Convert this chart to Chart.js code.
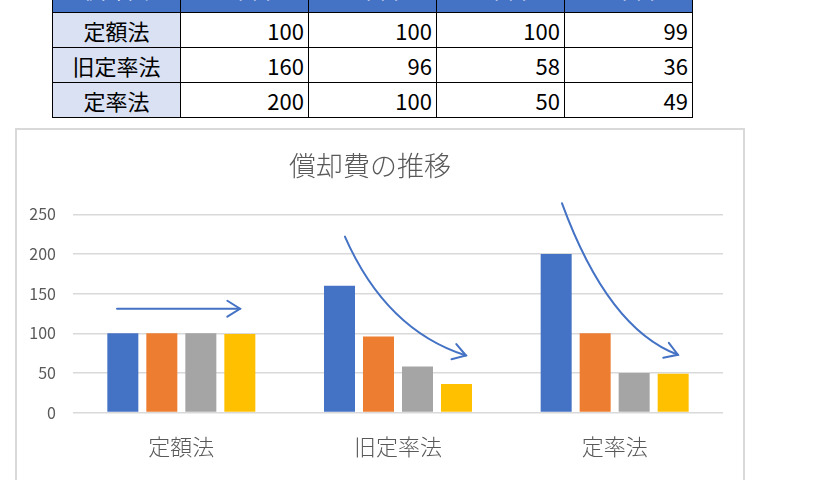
<!DOCTYPE html>
<html lang="ja">
<head>
<meta charset="utf-8">
<title>償却費の推移</title>
<script src="https://cdn.jsdelivr.net/npm/chart.js@4.4.1/dist/chart.umd.min.js"></script>
<style>
  html, body { margin: 0; padding: 0; background: #fff; overflow: hidden; }
  body { width: 821px; height: 480px; position: relative; font-family: "Noto Sans CJK JP", "Noto Sans", sans-serif; }
  #table { position: absolute; left: 52px; top: -29px; border-collapse: collapse; font-size: 22px; }
  #table td, #table th { border: 1px solid #000; width: 128px; height: 35px; padding: 0 4px; box-sizing: border-box; line-height: 1; }
  #table th { background: #4472c4; color: #fff; font-weight: normal; text-align: center; height: 41px; vertical-align: top; padding-top: 5px; }
  #table td { text-align: right; color: #000; }
  #table td.name { background: #d9e1f2; text-align: center; }
  #box { position: absolute; left: 15px; top: 128px; width: 726px; height: 360px; border: 2px solid #d9d9d9; background: #fff; }
  #box canvas { display: block; }
</style>
</head>
<body>
<table id="table"></table>
<div id="box"><canvas id="chart" width="726" height="360"></canvas></div>
<script>
// Depreciation per year for each method
const categories = ["定額法", "旧定率法", "定率法"]
const seriesLabels = ["1年目", "2年目", "3年目", "4年目"]
const year1 = [100, 160, 200]
const year2 = [100, 96, 100]
const year3 = [100, 58, 50]
const year4 = [99, 36, 49]
const headerLabel = "償却費"
const yMax = 250
const yStep = 50

const series = [year1, year2, year3, year4]
const colors = ["#4472c4", "#ed7d31", "#a5a5a5", "#ffc000"]

// sheet table
const table = document.getElementById("table")
let html = "<tr><th>" + headerLabel + "</th>" + seriesLabels.map((s) => "<th>" + s + "</th>").join("") + "</tr>"
categories.forEach((c, i) => {
  html += "<tr><td class=\"name\">" + c + "</td>" + series.map((s) => "<td>" + s[i] + "</td>").join("") + "</tr>"
})
table.innerHTML = html

// hand-drawn trend arrows, in category-offset / value units
const arrows = [
  { cat: 0, pts: [[-0.297, 131], [0.271, 131]] },
  { cat: 1, pts: [[-0.245, 222], [-0.055, 104], [0.314, 72]] },
  { cat: 2, pts: [[-0.243, 264], [-0.031, 106], [0.292, 73]] },
]

const arrowPlugin = {
  id: "arrows",
  afterDatasetsDraw(chart) {
    const { ctx, scales: { x, y } } = chart
    const catW = x.width / categories.length
    ctx.save()
    ctx.strokeStyle = "#4472c4"
    ctx.lineWidth = 2
    ctx.lineCap = "round"
    arrows.forEach((a) => {
      const p = a.pts.map(([dx, v]) => [x.getPixelForValue(a.cat) + dx * catW, y.getPixelForValue(v)])
      ctx.beginPath()
      ctx.moveTo(p[0][0], p[0][1])
      if (p.length === 2) ctx.lineTo(p[1][0], p[1][1])
      else ctx.quadraticCurveTo(p[1][0], p[1][1], p[2][0], p[2][1])
      ctx.stroke()
      // open chevron head
      const end = p[p.length - 1]
      const prev = p[p.length - 2]
      const ang = Math.atan2(end[1] - prev[1], end[0] - prev[0])
      const len = 15
      const spread = 0.56
      ctx.beginPath()
      ctx.moveTo(end[0] - len * Math.cos(ang - spread), end[1] - len * Math.sin(ang - spread))
      ctx.lineTo(end[0], end[1])
      ctx.lineTo(end[0] - len * Math.cos(ang + spread), end[1] - len * Math.sin(ang + spread))
      ctx.stroke()
    })
    ctx.restore()
  },
}

new Chart(document.getElementById("chart"), {
  type: "bar",
  data: {
    labels: categories,
    datasets: series.map((s, i) => ({
      label: seriesLabels[i],
      data: s,
      backgroundColor: colors[i],
      categoryPercentage: 0.72,
      barPercentage: 0.795,
    })),
  },
  options: {
    responsive: false,
    animation: false,
    devicePixelRatio: 1,
    layout: { padding: { left: 0, right: 20, top: 0, bottom: 17 } },
    plugins: {
      legend: { display: false },
      tooltip: { enabled: false },
      title: {
        display: true,
        text: "償却費の推移",
        color: "#595959",
        font: { family: "Noto Sans CJK JP", size: 27, weight: 300 },
        padding: { top: 20, bottom: 32 },
      },
    },
    scales: {
      x: {
        grid: { display: false },
        border: { display: false },
        ticks: { color: "#595959", padding: 13, font: { family: "Noto Sans CJK JP", size: 22, weight: 300 } },
      },
      y: {
        min: 0,
        max: yMax,
        afterFit: (s) => { s.width = 56 },
        grid: { color: "#d9d9d9", lineWidth: 1.5, drawTicks: false },
        border: { display: false },
        ticks: { stepSize: yStep, color: "#595959", padding: 17, font: { family: "Noto Sans CJK JP", size: 16 } },
      },
    },
  },
  plugins: [arrowPlugin],
})
</script>
</body>
</html>
